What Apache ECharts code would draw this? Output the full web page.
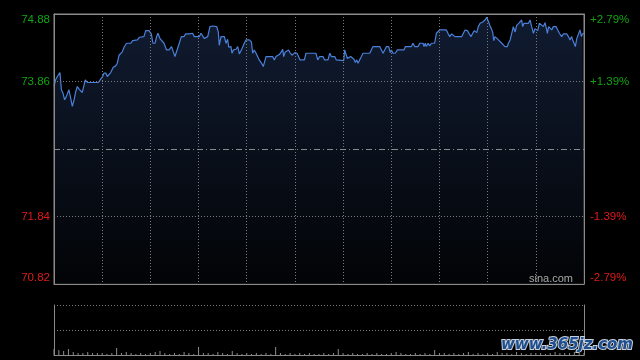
<!DOCTYPE html>
<html><head><meta charset="utf-8">
<script src="https://cdn.jsdelivr.net/npm/echarts@6/dist/echarts.min.js"></script>
<style>html,body{margin:0;padding:0;background:#000;}#c{width:640px;height:360px;}</style>
</head><body><div id="c"></div>
<script>
// minute of session (HK: 9:30-12:00, 13:00-16:00 => 330 minutes)
var minutes = [0,1.0,2.1,3.7,4.6,5.6,6.6,7.5,8.3,9.3,10.4,11.4,12.5,13.5,14.5,15.6,16.6,17.6,18.7,19.5,20.8,22.8,24.9,27.6,29.1,30.3,31.1,32.4,33.2,34.2,35.3,36.9,38.4,39.4,40.5,41.5,42.5,43.6,45.2,47.7,49.0,51.9,53.1,56.0,57.1,59.1,60.6,61.6,62.9,63.9,64.7,66.0,66.8,68.5,70.1,71.6,72.6,73.2,74.3,75.3,76.4,77.2,78.2,79.3,80.9,82.0,
84.3,85.3,86.3,87.4,90.5,91.5,92.6,93.6,94.6,95.7,97.1,98.8,101.3,102.3,102.9,104.0,106.1,107.1,108.1,108.8,109.6,110.2,110.8,111.7,113.3,114.4,115.4,117.1,118.5,119.5,121.6,122.9,123.7,124.7,125.8,127.8,129.5,130.3,132.0,136.1,137.2,138.2,140.3,141.5,142.4,143.0,144.0,144.9,146.1,146.9,148.2,149.0,150.0,151.3,152.3,153.2,155.9,156.9,163.1,164.2,
165.4,167.5,168.5,170.6,171.7,172.7,173.7,174.8,175.8,180.4,181.0,181.6,182.7,183.7,184.7,185.8,186.8,187.6,188.5,189.3,190.3,191.4,192.4,196.6,198.6,202.8,203.8,204.9,205.9,207.0,208.4,209.4,210.1,211.1,212.5,213.8,217.9,218.8,222.5,223.5,224.6,226.7,227.7,229.8,230.4,231.2,231.8,232.9,233.9,235.0,237.0,238.1,239.1,240.1,244.3,245.3,246.4,
247.6,248.7,249.7,253.9,254.9,255.9,257.4,258.6,259.7,260.7,261.7,263.2,264.2,265.3,266.9,268.4,269.4,270.0,270.9,271.5,272.3,273.2,273.8,274.6,275.7,276.7,277.7,278.8,279.8,280.8,282.3,282.9,284.0,285.0,286.0,287.1,288.1,289.1,289.8,290.6,291.2,291.8,292.7,295.4,296.4,297.4,298.5,299.5,300.6,301.2,302.2,303.0,304.7,305.7,306.8,307.2,308.0,309.9,310.9,312.6,313.4,314.7,316.1,317.2,319.2,320.3,321.3,322.3,323.0,323.8,324.6,325.5,326.5,327.5,328.4,329.0,330.0];
var prices = [73.79,73.89,73.94,74.00,73.74,73.69,73.59,73.63,73.60,73.74,73.61,73.49,73.59,73.71,73.79,73.75,73.74,73.70,73.81,73.89,73.85,73.85,73.85,73.85,73.90,73.94,73.99,73.99,73.94,73.95,74.00,74.08,74.10,74.14,74.26,74.29,74.31,74.38,74.44,74.44,74.48,74.49,74.53,74.54,74.63,74.63,74.58,74.44,74.44,74.54,74.59,74.51,74.48,74.44,74.34,74.34,74.35,74.39,74.31,74.24,74.24,74.38,74.40,74.54,74.54,74.58,
74.58,74.55,74.59,74.54,74.54,74.59,74.58,74.51,74.48,74.54,74.69,74.70,74.69,74.61,74.41,74.54,74.54,74.44,74.50,74.38,74.35,74.39,74.29,74.34,74.35,74.39,74.28,74.36,74.44,74.49,74.49,74.46,74.29,74.34,74.29,74.19,74.13,74.09,74.24,74.24,74.19,74.24,74.27,74.31,74.35,74.24,74.31,74.30,74.34,74.30,74.26,74.24,74.30,74.29,74.30,74.19,74.19,74.29,74.29,74.19,
74.24,74.24,74.19,74.19,74.29,74.24,74.25,74.24,74.19,74.18,74.34,74.29,74.21,74.19,74.24,74.25,74.20,74.15,74.19,74.14,74.19,74.24,74.29,74.29,74.39,74.39,74.38,74.29,74.29,74.39,74.39,74.30,74.34,74.29,74.29,74.34,74.34,74.39,74.39,74.44,74.39,74.39,74.44,74.44,74.39,74.44,74.39,74.44,74.40,74.44,74.44,74.59,74.59,74.64,74.64,74.59,74.54,
74.58,74.58,74.54,74.54,74.59,74.64,74.63,74.58,74.54,74.59,74.63,74.60,74.69,74.74,74.76,74.79,74.83,74.86,74.74,74.70,74.66,74.60,74.48,74.54,74.53,74.49,74.46,74.44,74.41,74.39,74.39,74.44,74.49,74.59,74.69,74.61,74.71,74.69,74.75,74.73,74.79,74.69,74.74,74.74,74.79,74.69,74.59,74.66,74.69,74.63,74.74,74.73,74.69,74.75,74.64,74.59,74.69,74.64,74.69,74.69,74.65,74.59,74.54,74.58,74.58,74.54,74.49,74.54,74.49,74.44,74.39,74.51,74.54,74.64,74.54,74.58,74.59];
var prevClose = 72.85;
var priceMin = 70.82, priceMax = 74.88;
var leftLabels = ['70.82','71.84','','73.86','74.88'];
var rightLabels = ['-2.79%','-1.39%','','+1.39%','+2.79%'];
// volume every 3 minutes (rough)
var volMinutes = [];
for (var i = 0; i <= 110; i++) volMinutes.push(i * 3);
var volumes = [6,5,4,6,3,2,2,3,2,2,2,1,2,7,2,3,2,1,2,1,2,3,4,2,1,2,1,3,2,1,8,2,2,1,3,2,1,4,2,1,2,1,2,1,2,1,8,2,1,2,1,2,1,2,1,1,2,1,2,6,2,1,2,1,1,2,1,2,1,1,2,3,2,1,1,2,1,2,1,5,2,2,1,2,1,2,3,1,2,1,2,1,3,2,2,1,3,2,1,2,2,2,1,2,3,2,2,2,3,2,2];

var linePts = minutes.map(function (m, i) { return [m, prices[i]]; });
var volPts = volMinutes.map(function (m, i) { return [m, volumes[i]]; });

var GREEN = '#13a313', RED = '#e01a1a', GRID = '#7a7a7a', BORDER = '#8a8a8a', FONT = 'Liberation Sans, Arial, sans-serif';
function lbl(arr, v) {
  var s = arr[v]; if (!s) return '';
  return (v >= 3 ? '{g|' : '{r|') + s + '}';
}
var rich = { g: { color: GREEN, fontSize: 11.5, fontFamily: FONT }, r: { color: RED, fontSize: 11.5, fontFamily: FONT } };
var vGridColors = ['rgba(0,0,0,0)', GRID, GRID, GRID, GRID, GRID, GRID, GRID, GRID, GRID, GRID, 'rgba(0,0,0,0)'];

var chart = echarts.init(document.getElementById('c'), null, { renderer: 'canvas' });
chart.setOption({
  backgroundColor: '#000',
  animation: false,
  grid: [
    { left: 54, top: 14, width: 530, height: 270, show: true, borderColor: BORDER, borderWidth: 1, backgroundColor: 'rgba(0,0,0,0)' },
    { left: 54, top: 305, width: 530, height: 50, show: false }
  ],
  xAxis: [
    { gridIndex: 0, type: 'value', min: 0, max: 330, interval: 30, z: 3,
      axisLine: { show: true, lineStyle: { color: BORDER, width: 1 } }, axisTick: { show: false }, axisLabel: { show: false },
      splitLine: { show: true, lineStyle: { color: vGridColors, type: [1, 2], width: 1 } } },
    { gridIndex: 0, type: 'value', min: 0, max: 330, position: 'top', z: 3,
      axisLine: { show: true, onZero: false, lineStyle: { color: BORDER, width: 1 } }, axisTick: { show: false }, axisLabel: { show: false }, splitLine: { show: false } },
    { gridIndex: 1, type: 'value', min: 0, max: 330, z: 3,
      axisLine: { show: true, lineStyle: { color: BORDER, width: 1 } }, axisTick: { show: false }, axisLabel: { show: false }, splitLine: { show: false } }
  ],
  yAxis: [
    { gridIndex: 0, type: 'value', min: priceMin, max: priceMax, show: false, splitLine: { show: false } },
    { gridIndex: 0, type: 'value', min: 0, max: 4, interval: 1, position: 'left', z: 3,
      axisLine: { show: true, lineStyle: { color: BORDER, width: 1 } }, axisTick: { show: false },
      axisLabel: { margin: 4, formatter: function (v) { return lbl(leftLabels, v); }, rich: rich,
        verticalAlignMinLabel: 'bottom', verticalAlignMaxLabel: 'top' },
      splitLine: { show: true, lineStyle: { color: ['rgba(0,0,0,0)', GRID, 'rgba(0,0,0,0)', GRID, 'rgba(0,0,0,0)'], type: [1, 2] } } },
    { gridIndex: 0, type: 'value', min: 0, max: 4, interval: 1, position: 'right', z: 3,
      axisLine: { show: true, lineStyle: { color: BORDER, width: 1 } }, axisTick: { show: false },
      axisLabel: { margin: 6, formatter: function (v) { return lbl(rightLabels, v); }, rich: rich,
        verticalAlignMinLabel: 'bottom', verticalAlignMaxLabel: 'top' },
      splitLine: { show: false } },
    { gridIndex: 1, type: 'value', min: 0, max: 50, interval: 25, position: 'left', z: 3,
      axisLine: { show: true, lineStyle: { color: BORDER, width: 1 } }, axisTick: { show: false }, axisLabel: { show: false },
      splitLine: { show: true, lineStyle: { color: GRID, type: [1, 2] } } },
    { gridIndex: 1, type: 'value', min: 0, max: 50, position: 'right', z: 3,
      axisLine: { show: true, lineStyle: { color: BORDER, width: 1 } }, axisTick: { show: false }, axisLabel: { show: false }, splitLine: { show: false } }
  ],
  series: [
    { type: 'line', xAxisIndex: 0, yAxisIndex: 0, data: linePts, symbol: 'none', z: 2,
      lineStyle: { color: '#4a80da', width: 1.2 },
      areaStyle: { origin: 'start', color: new echarts.graphic.LinearGradient(0, 0, 0, 1, [
        { offset: 0, color: '#182746' }, { offset: 1, color: '#030508' }]) },
      markLine: { silent: true, symbol: 'none', label: { show: false },
        lineStyle: { color: '#8a8a8a', type: [6, 3, 1, 3], width: 1 },
        data: [{ yAxis: prevClose }] } },
    { type: 'bar', xAxisIndex: 2, yAxisIndex: 3, data: volPts, barWidth: 1, itemStyle: { color: '#8c8c8c' } }
  ],
  graphic: [
    { type: 'text', right: 67, top: 273, z: 10,
      style: { text: 'sina.com', fill: '#a8a8a8', font: '11px ' + FONT } },
    { type: 'text', right: 6, top: 337, z: 10,
      style: { text: 'www.365jz.com', fill: '#1f4f8f', stroke: '#c8d0dc', lineWidth: 2,
        font: 'bold italic 15px DejaVu Sans, sans-serif' } }
  ]
});
</script>
</body></html>
